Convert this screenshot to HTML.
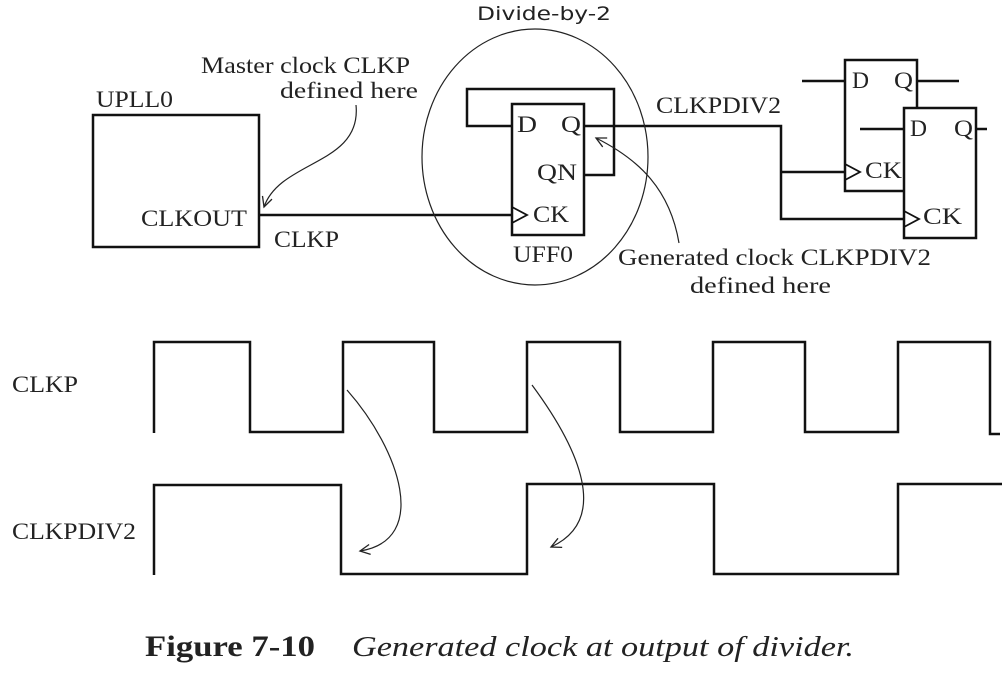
<!DOCTYPE html>
<html><head><meta charset="utf-8"><style>
html,body{margin:0;padding:0;background:#fff;}
svg{display:block;}
text{font-family:"Liberation Serif",serif;fill:#222;}
</style></head><body>
<svg width="1002" height="673" viewBox="0 0 1002 673" xmlns="http://www.w3.org/2000/svg">
<defs>
<marker id="ah" markerWidth="14" markerHeight="14" refX="11" refY="6" orient="auto" markerUnits="userSpaceOnUse">
<path d="M1,1 L11,6 L1,11" fill="none" stroke="#222" stroke-width="1.3"/>
</marker>
</defs>
<g fill="none" stroke="#111" stroke-width="2.5">
<rect x="93" y="115" width="166" height="132"/>
<line x1="259" y1="215" x2="512" y2="215"/>
<rect x="512" y="104" width="72" height="131"/>
<polyline points="512,126 467,126 467,89 614,89 614,175 584,175"/>
<polyline points="584,126 781,126 781,219 904,219"/>
<line x1="781" y1="172" x2="845" y2="172"/>
<polyline points="512,207 527,215 512,223" stroke-width="1.8"/>
<rect x="845" y="60" width="72" height="131"/>
<line x1="802" y1="81" x2="845" y2="81"/>
<line x1="917" y1="81" x2="959" y2="81"/>
<polyline points="845,164 860,172 845,180" stroke-width="1.8"/>
<rect x="904" y="108" width="72" height="130" fill="#fff"/>
<line x1="860" y1="129" x2="904" y2="129"/>
<line x1="976" y1="129" x2="987" y2="129"/>
<polyline points="904,211 919,219 904,227" stroke-width="1.8"/>
<polyline points="154,433 154,342 250,342 250,432 343,432 343,342 434,342 434,432 527,432 527,342 620,342 620,432 713,432 713,342 805,342 805,432 898,432 898,342 990,342 990,434 1000,434"/>
<polyline points="154,575 154,485 341,485 341,574 527,574 527,484 714,484 714,574 898,574 898,484 1002,484"/>
</g>
<ellipse cx="535" cy="157" rx="113" ry="128" fill="none" stroke="#222" stroke-width="1.2"/>
<g fill="none" stroke="#222" stroke-width="1.2">
<path d="M356,105 C362,165 280,160 264,207" marker-end="url(#ah)"/>
<path d="M679,243 C670,190 640,160 596,138" marker-end="url(#ah)"/>
<path d="M347,390 C400,450 430,540 360,551" marker-end="url(#ah)"/>
<path d="M532,385 C580,450 610,520 551,547" marker-end="url(#ah)"/>
</g>
<g font-size="23">
<text x="201" y="73" textLength="209" lengthAdjust="spacingAndGlyphs">Master clock CLKP</text>
<text x="280" y="98" textLength="138" lengthAdjust="spacingAndGlyphs">defined here</text>
<text x="96" y="107" textLength="77" lengthAdjust="spacingAndGlyphs">UPLL0</text>
<text x="141" y="226" textLength="106" lengthAdjust="spacingAndGlyphs">CLKOUT</text>
<text x="274" y="247" textLength="65" lengthAdjust="spacingAndGlyphs">CLKP</text>
<text x="517" y="132" textLength="20" lengthAdjust="spacingAndGlyphs">D</text>
<text x="561" y="132" textLength="20" lengthAdjust="spacingAndGlyphs">Q</text>
<text x="537" y="180" textLength="40" lengthAdjust="spacingAndGlyphs">QN</text>
<text x="533" y="222" textLength="36" lengthAdjust="spacingAndGlyphs">CK</text>
<text x="513" y="262" textLength="60" lengthAdjust="spacingAndGlyphs">UFF0</text>
<text x="656" y="113" textLength="125" lengthAdjust="spacingAndGlyphs">CLKPDIV2</text>
<text x="852" y="88" textLength="17" lengthAdjust="spacingAndGlyphs">D</text>
<text x="894" y="88" textLength="19" lengthAdjust="spacingAndGlyphs">Q</text>
<text x="865" y="178" textLength="37" lengthAdjust="spacingAndGlyphs">CK</text>
<text x="910" y="136" textLength="17" lengthAdjust="spacingAndGlyphs">D</text>
<text x="954" y="136" textLength="19" lengthAdjust="spacingAndGlyphs">Q</text>
<text x="923" y="224" textLength="39" lengthAdjust="spacingAndGlyphs">CK</text>
<text x="618" y="265" textLength="313" lengthAdjust="spacingAndGlyphs">Generated clock CLKPDIV2</text>
<text x="690" y="293" textLength="141" lengthAdjust="spacingAndGlyphs">defined here</text>
<text x="12" y="392" textLength="66" lengthAdjust="spacingAndGlyphs">CLKP</text>
<text x="12" y="539" textLength="124" lengthAdjust="spacingAndGlyphs">CLKPDIV2</text>
</g>
<text x="477" y="20" font-size="19" textLength="134" lengthAdjust="spacingAndGlyphs" style="font-family:'DejaVu Sans',sans-serif">Divide-by-2</text>
<text x="145" y="656" font-size="30" font-weight="bold" textLength="170" lengthAdjust="spacingAndGlyphs">Figure 7-10</text>
<text x="352" y="656" font-size="29" font-style="italic" textLength="502" lengthAdjust="spacingAndGlyphs">Generated clock at output of divider.</text>
</svg>
</body></html>
